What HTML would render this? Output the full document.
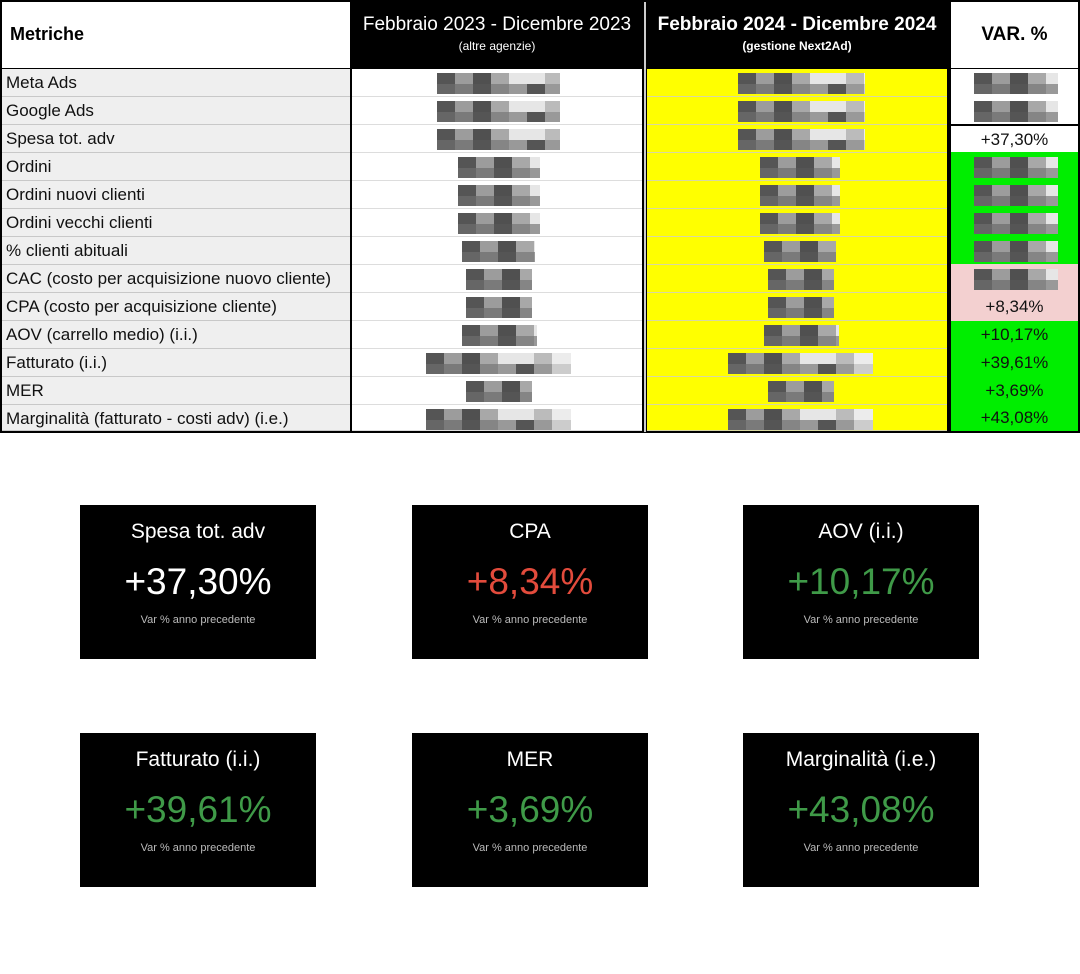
<!DOCTYPE html>
<html><head><meta charset="utf-8">
<style>
*{margin:0;padding:0;box-sizing:border-box}
body{width:1080px;height:974px;background:#fff;position:relative;overflow:hidden;font-family:"Liberation Sans",Arial,sans-serif}
.a{position:absolute}
.row{position:absolute;height:28px;font-size:17px;line-height:28px;color:#111}
.c1{left:2px;width:348px;background:#efefef;padding-left:4px;border-bottom:1px solid #c8c8c8}
.c2{left:352px;width:290px;background:#fff;border-bottom:1px solid #ddd}
.c3{left:647px;width:300px;background:#ffff00;border-bottom:1px solid #d8d8a0}
.c4{left:951px;width:127px;text-align:center}
.blob{position:absolute;top:4px;height:21px;
background:
linear-gradient(to right,#555 0 18px,#9c9c9c 18px 36px,#505050 36px 54px,#a8a8a8 54px 72px,#e6e6e6 72px 108px,#bbb 108px 126px,#ececec 126px 150px) top/100% 11px no-repeat,
linear-gradient(to right,#666 0 18px,#7a7a7a 18px 36px,#555 36px 54px,#858585 54px 72px,#999 72px 90px,#555 90px 108px,#999 108px 126px,#ccc 126px 150px) bottom/100% 10px no-repeat;}
.card{position:absolute;width:236px;height:154px;background:#000;color:#fff;text-align:center;font-family:"Liberation Sans",sans-serif}
.card .t{position:absolute;top:15px;width:100%;font-size:21px}
.card .v{position:absolute;top:56px;width:100%;font-size:37px}
.card .s{position:absolute;top:109px;width:100%;font-size:11px;color:#bbb}
</style></head><body>
<div class="a" style="left:0;top:0;width:1080px;height:433px;background:#000"></div>
<div class="a" style="left:2px;top:2px;width:348px;height:66px;background:#fff"></div>
<div class="a" style="left:10px;top:24px;font-size:18px;font-weight:bold">Metriche</div>
<div class="a" style="left:352px;top:2px;width:290px;height:66px;background:#000"></div>
<div class="a" style="left:644px;top:2px;width:2px;height:430px;background:#ccc"></div>
<div class="a" style="left:352px;top:14px;width:290px;text-align:center;color:#fff;font-size:19px">Febbraio 2023 - Dicembre 2023</div>
<div class="a" style="left:352px;top:39px;width:290px;text-align:center;color:#fff;font-size:12px">(altre agenzie)</div>
<div class="a" style="left:647px;top:14px;width:300px;text-align:center;color:#fff;font-size:19px;font-weight:bold">Febbraio 2024 - Dicembre 2024</div>
<div class="a" style="left:647px;top:39px;width:300px;text-align:center;color:#fff;font-size:12px;font-weight:bold">(gestione Next2Ad)</div>
<div class="a" style="left:951px;top:2px;width:127px;height:66px;background:#fff"></div>
<div class="a" style="left:951px;top:24px;width:127px;text-align:center;font-size:19px;font-weight:bold">VAR. %</div>

<div class="row c1" style="top:69px">Meta Ads</div>
<div class="row c1" style="top:97px">Google Ads</div>
<div class="row c1" style="top:125px">Spesa tot. adv</div>
<div class="row c1" style="top:153px">Ordini</div>
<div class="row c1" style="top:181px">Ordini nuovi clienti</div>
<div class="row c1" style="top:209px">Ordini vecchi clienti</div>
<div class="row c1" style="top:237px">% clienti abituali</div>
<div class="row c1" style="top:265px">CAC (costo per acquisizione nuovo cliente)</div>
<div class="row c1" style="top:293px">CPA (costo per acquisizione cliente)</div>
<div class="row c1" style="top:321px">AOV (carrello medio) (i.i.)</div>
<div class="row c1" style="top:349px">Fatturato (i.i.)</div>
<div class="row c1" style="top:377px">MER</div>
<div class="row c1" style="top:405px;height:26px">Marginalità (fatturato - costi adv) (i.e.)</div>

<div class="row c2" style="top:69px"><div class="blob" style="left:85px;width:123px"></div></div>
<div class="row c2" style="top:97px"><div class="blob" style="left:85px;width:123px"></div></div>
<div class="row c2" style="top:125px"><div class="blob" style="left:85px;width:123px"></div></div>
<div class="row c2" style="top:153px"><div class="blob" style="left:106px;width:82px"></div></div>
<div class="row c2" style="top:181px"><div class="blob" style="left:106px;width:82px"></div></div>
<div class="row c2" style="top:209px"><div class="blob" style="left:106px;width:82px"></div></div>
<div class="row c2" style="top:237px"><div class="blob" style="left:110px;width:73px"></div></div>
<div class="row c2" style="top:265px"><div class="blob" style="left:114px;width:66px"></div></div>
<div class="row c2" style="top:293px"><div class="blob" style="left:114px;width:66px"></div></div>
<div class="row c2" style="top:321px"><div class="blob" style="left:110px;width:75px"></div></div>
<div class="row c2" style="top:349px"><div class="blob" style="left:74px;width:145px"></div></div>
<div class="row c2" style="top:377px"><div class="blob" style="left:114px;width:66px"></div></div>
<div class="row c2" style="top:405px;height:26px"><div class="blob" style="left:74px;width:145px"></div></div>

<div class="row c3" style="top:69px"><div class="blob" style="left:91px;width:127px"></div></div>
<div class="row c3" style="top:97px"><div class="blob" style="left:91px;width:127px"></div></div>
<div class="row c3" style="top:125px"><div class="blob" style="left:91px;width:127px"></div></div>
<div class="row c3" style="top:153px"><div class="blob" style="left:113px;width:80px"></div></div>
<div class="row c3" style="top:181px"><div class="blob" style="left:113px;width:80px"></div></div>
<div class="row c3" style="top:209px"><div class="blob" style="left:113px;width:80px"></div></div>
<div class="row c3" style="top:237px"><div class="blob" style="left:117px;width:72px"></div></div>
<div class="row c3" style="top:265px"><div class="blob" style="left:121px;width:66px"></div></div>
<div class="row c3" style="top:293px"><div class="blob" style="left:121px;width:66px"></div></div>
<div class="row c3" style="top:321px"><div class="blob" style="left:117px;width:75px"></div></div>
<div class="row c3" style="top:349px"><div class="blob" style="left:81px;width:145px"></div></div>
<div class="row c3" style="top:377px"><div class="blob" style="left:121px;width:66px"></div></div>
<div class="row c3" style="top:405px;height:26px"><div class="blob" style="left:81px;width:145px"></div></div>

<div class="a" style="left:951px;top:69px;width:127px;height:55px;background:#fff"></div>
<div class="row c4" style="top:69px"><div class="blob" style="left:23px;width:84px"></div></div>
<div class="row c4" style="top:97px"><div class="blob" style="left:23px;width:84px"></div></div>
<div class="a" style="left:951px;top:124px;width:127px;height:2px;background:#000"></div>
<div class="row c4" style="top:126px;height:26px;background:#fff">+37,30%</div>
<div class="a" style="left:951px;top:152px;width:127px;height:112px;background:#00ee00"></div>
<div class="row c4" style="top:153px"><div class="blob" style="left:23px;width:84px"></div></div>
<div class="row c4" style="top:181px"><div class="blob" style="left:23px;width:84px"></div></div>
<div class="row c4" style="top:209px"><div class="blob" style="left:23px;width:84px"></div></div>
<div class="row c4" style="top:237px"><div class="blob" style="left:23px;width:84px"></div></div>
<div class="a" style="left:951px;top:264px;width:127px;height:57px;background:#f3d0d0"></div>
<div class="row c4" style="top:265px"><div class="blob" style="left:23px;width:84px"></div></div>
<div class="row c4" style="top:293px">+8,34%</div>
<div class="a" style="left:951px;top:321px;width:127px;height:110px;background:#00ee00"></div>
<div class="row c4" style="top:321px">+10,17%</div>
<div class="row c4" style="top:349px">+39,61%</div>
<div class="row c4" style="top:377px">+3,69%</div>
<div class="row c4" style="top:404px">+43,08%</div>

<div class="card" style="left:80px;top:505px"><div class="t">Spesa tot. adv</div><div class="v">+37,30%</div><div class="s">Var % anno precedente</div></div>
<div class="card" style="left:412px;top:505px"><div class="t">CPA</div><div class="v" style="color:#e34b3c">+8,34%</div><div class="s">Var % anno precedente</div></div>
<div class="card" style="left:743px;top:505px"><div class="t">AOV (i.i.)</div><div class="v" style="color:#3f9a48">+10,17%</div><div class="s">Var % anno precedente</div></div>
<div class="card" style="left:80px;top:733px"><div class="t">Fatturato (i.i.)</div><div class="v" style="color:#3f9a48">+39,61%</div><div class="s">Var % anno precedente</div></div>
<div class="card" style="left:412px;top:733px"><div class="t">MER</div><div class="v" style="color:#3f9a48">+3,69%</div><div class="s">Var % anno precedente</div></div>
<div class="card" style="left:743px;top:733px"><div class="t">Marginalità (i.e.)</div><div class="v" style="color:#3f9a48">+43,08%</div><div class="s">Var % anno precedente</div></div>
</body></html>
